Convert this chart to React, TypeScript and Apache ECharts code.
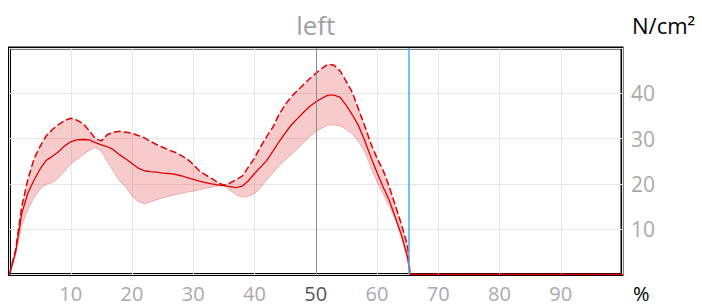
import React, { useEffect, useRef } from "react";
import * as echarts from "echarts";

// x positions (% of cycle)
const xs: number[] = [
  0, 1, 2, 3, 4, 5, 6, 7, 8, 9, 10, 11, 12, 13, 14, 15, 16, 17, 18, 19, 20,
  21, 22, 23, 24, 25, 26, 27, 28, 29, 30, 31, 32, 33, 34, 35, 36, 37, 38, 39, 40,
  41, 42, 43, 44, 45, 46, 47, 48, 49, 50, 51, 52, 53, 54, 55, 56, 57, 58, 59, 60,
  61, 62, 63, 64, 65, 65.4, 100,
];

// mean pressure (N/cm²)
const meanVals: number[] = [
  0, 5, 13.5, 18, 20.8, 23.3, 25.2, 26.1, 27.1, 28.4, 29.3,
  29.7, 29.8, 29.7, 29.1, 28.6, 28.2, 27.5, 26.4, 25.5, 24.5,
  23.5, 22.9, 22.7, 22.6, 22.4, 22.3, 22.1, 21.8, 21.4, 21.0,
  20.6, 20.3, 20.0, 19.8, 19.6, 19.4, 19.2, 19.5, 20.7, 22.3,
  23.7, 25.2, 27.2, 29.3, 31.2, 33.0, 34.4, 35.8, 37.1, 38.1,
  38.9, 39.6, 39.6, 39.1, 37.3, 35.2, 32.8, 29.6, 25.9, 22.5,
  19.3, 16.4, 12.6, 8.7, 3.8, 0, 0,
];

// upper band edge
const upperVals: number[] = [
  0, 5.5, 15, 21, 25.5, 28.3, 30.6, 32, 33.1, 34, 34.5,
  34.1, 33.3, 31.8, 30.0, 29.5, 30.9, 31.4, 31.6, 31.4, 31.2,
  30.7, 30.2, 29.4, 28.7, 28.1, 27.5, 27.0, 26.3, 25.5, 24.3,
  22.9, 22.0, 21.2, 20.3, 19.7, 20.2, 20.9, 21.7, 23.7, 25.7,
  28.2, 30.5, 32.5, 35.3, 37.5, 39.2, 40.6, 41.9, 43.2, 44.4,
  45.5, 46.4, 46.2, 44.9, 42.6, 40.1, 36.4, 32.8, 28.9, 25.7,
  23.0, 19.4, 15.2, 11.0, 6.3, 0, 0,
];

// lower band edge
const lowerVals: number[] = [
  0, 4.2, 10.8, 14.3, 17.0, 18.8, 19.9, 20.3, 21.3, 22.8, 24.4,
  25.4, 26.4, 27.4, 28.1, 27.2, 24.9, 22.7, 20.6, 19.3, 17.3,
  16.1, 15.6, 16.0, 16.5, 16.9, 17.3, 17.6, 17.9, 18.2, 18.4,
  18.7, 19.0, 19.3, 19.5, 19.6, 18.6, 17.6, 17.0, 17.3, 17.9,
  19.2, 20.9, 22.4, 24.0, 25.3, 26.5, 27.7, 29.1, 30.4, 31.5,
  32.3, 33.0, 33.0, 32.8, 32.0, 31.0, 29.3, 27.1, 23.6, 20.5,
  17.8, 15.1, 12.1, 8.0, 3.0, 0, 0,
];

const xTickLabels: string[] = ["10", "20", "30", "40", "50", "60", "70", "80", "90"];
const yTickLabels: string[] = ["10", "20", "30", "40"];
const highlightX = 50;
const cursorX = 65.2;

const FONT = "'Open Sans', 'Segoe UI', sans-serif";

export default function App() {
  const ref = useRef<HTMLDivElement>(null);

  useEffect(() => {
    if (!ref.current) return;
    const chart = echarts.init(ref.current, undefined, { renderer: "svg" });

    const pairs = (vals: number[]) => xs.map((x, i) => [x, vals[i]]);
    const bandData = xs.map((x, i) => [x, lowerVals[i], upperVals[i]]);

    const gridLeft = 9.5;
    const gridRight = 80;
    const gridTop = 48;
    const gridBottom = 31.5;
    const plotCenter = gridLeft + (702 - gridLeft - gridRight) / 2;

    chart.setOption({
      animation: false,
      grid: {
        left: gridLeft,
        right: gridRight,
        top: gridTop,
        bottom: gridBottom,
        show: true,
        borderColor: "#000",
        borderWidth: 3,
        backgroundColor: "transparent",
      },
      xAxis: {
        type: "value",
        min: 0,
        max: 100,
        interval: 10,
        axisLine: { show: false },
        axisTick: { show: false },
        splitLine: { show: true, lineStyle: { color: "#e6e6e6", width: 1 } },
        axisLabel: {
          fontFamily: FONT,
          fontSize: 20,
          lineHeight: 20,
          margin: 9,
          color: (v: any) => (Number(v) === highlightX ? "#555555" : "#aaaaaa"),
          formatter: (v: number) => (xTickLabels.includes(String(v)) ? String(v) : ""),
        },
      },
      yAxis: {
        type: "value",
        position: "right",
        min: 0,
        max: 50,
        interval: 10,
        axisLine: { show: false },
        axisTick: { show: false },
        splitLine: { show: true, lineStyle: { color: "#e6e6e6", width: 1 } },
        axisLabel: {
          fontFamily: FONT,
          fontSize: 21,
          margin: 9,
          color: "#aaaaaa",
          formatter: (v: number) => (yTickLabels.includes(String(v)) ? String(v) : ""),
        },
      },
      graphic: [
        {
          type: "text",
          x: plotCenter,
          y: 25,
          style: {
            text: "left",
            fill: "#a0a0a0",
            font: `26px ${FONT}`,
            textAlign: "center",
            textVerticalAlign: "middle",
          },
        },
        {
          type: "text",
          x: 632,
          y: 25,
          style: {
            text: "N/cm²",
            fill: "#000",
            font: `22px ${FONT}`,
            textAlign: "left",
            textVerticalAlign: "middle",
          },
        },
        {
          type: "text",
          x: 633,
          y: 293,
          style: {
            text: "%",
            fill: "#000",
            font: `20px ${FONT}`,
            textAlign: "left",
            textVerticalAlign: "middle",
          },
        },
      ],
      series: [
        {
          name: "band",
          type: "custom",
          data: bandData,
          encode: { x: 0, y: [1, 2] },
          silent: true,
          z: 1,
          renderItem: (params: any, api: any) => {
            if (params.dataIndex !== 0) return { type: "group", children: [] };
            const top = bandData.map((d) => api.coord([d[0], d[2]]));
            const bottom = bandData
              .slice()
              .reverse()
              .map((d) => api.coord([d[0], d[1]]));
            return {
              type: "polygon",
              shape: { points: top.concat(bottom) },
              style: { fill: "rgba(225, 70, 70, 0.28)", stroke: "none" },
            };
          },
        },
        {
          name: "lower",
          type: "line",
          data: pairs(lowerVals),
          symbol: "none",
          lineStyle: { color: "rgba(200, 80, 80, 0.35)", width: 1 },
          z: 2,
        },
        {
          name: "upper",
          type: "line",
          data: pairs(upperVals),
          symbol: "none",
          lineStyle: { color: "#e00000", width: 1.5, type: [7, 3] },
          z: 3,
        },
        {
          name: "mean",
          type: "line",
          data: pairs(meanVals),
          symbol: "none",
          lineStyle: { color: "#e00000", width: 1.3 },
          z: 4,
          markLine: {
            silent: true,
            symbol: "none",
            label: { show: false },
            data: [
              { xAxis: highlightX, lineStyle: { color: "#8c8c8c", width: 1, type: "solid" } },
              { xAxis: cursorX, lineStyle: { color: "#4aaef0", width: 1.5, type: "solid" } },
            ],
          },
        },
      ],
    });

    return () => chart.dispose();
  }, []);

  return (
    <div
      ref={ref}
      style={{ position: "absolute", left: 0, top: 0, width: 702, height: 306 }}
    />
  );
}
